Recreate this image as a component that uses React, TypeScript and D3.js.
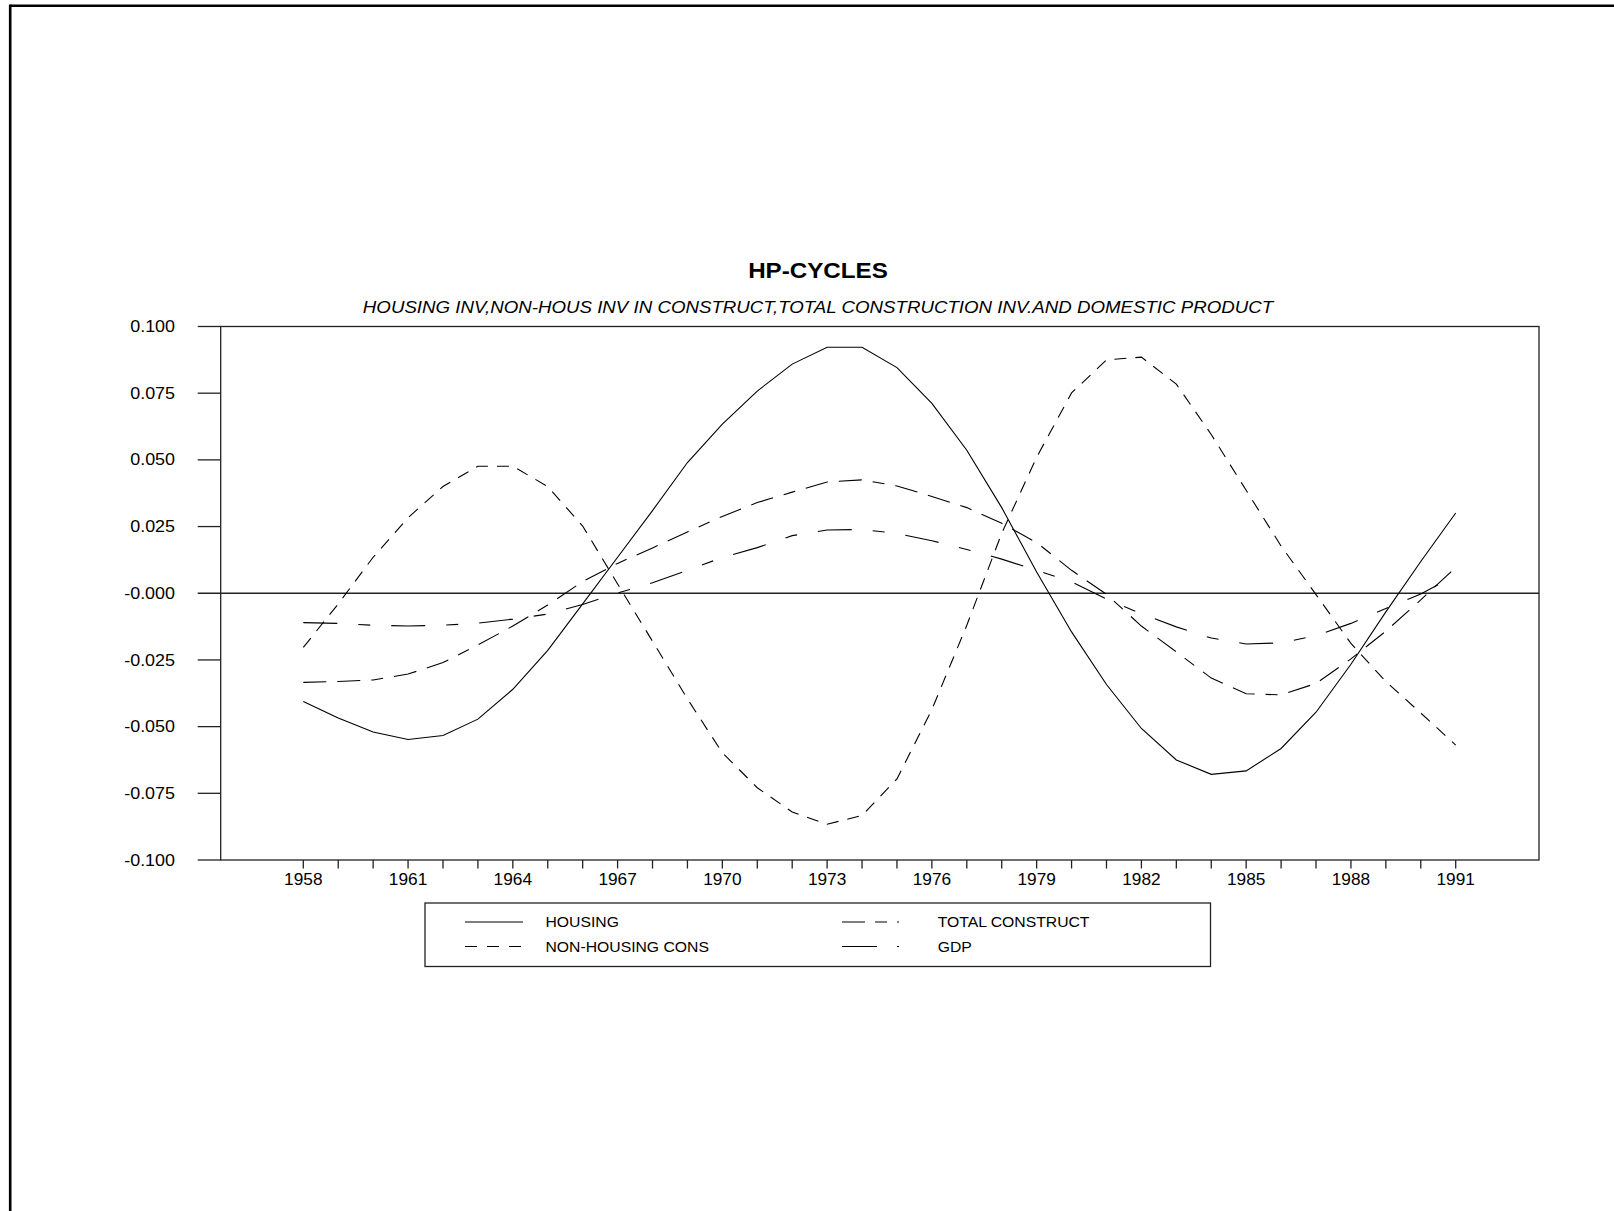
import React, { useEffect } from "react";
import * as d3 from "d3";

const years = [1958,1959,1960,1961,1962,1963,1964,1965,1966,1967,1968,1969,1970,1971,1972,1973,1974,1975,1976,1977,1978,1979,1980,1981,1982,1983,1984,1985,1986,1987,1988,1989,1990,1991];

const housing = [-0.0406,-0.0468,-0.0520,-0.0548,-0.0533,-0.0472,-0.0360,-0.0214,-0.0040,0.0135,0.0310,0.0490,0.0634,0.0758,0.0859,0.0922,0.0922,0.0846,0.0712,0.0536,0.0321,0.0080,-0.0145,-0.0342,-0.0507,-0.0625,-0.0679,-0.0666,-0.0582,-0.0446,-0.0266,-0.0070,0.0119,0.0301];

const nonHousing = [-0.0203,-0.0040,0.0135,0.0283,0.0400,0.0476,0.0476,0.0400,0.0252,0.0035,-0.0180,-0.0396,-0.0598,-0.0729,-0.0820,-0.0866,-0.0833,-0.0696,-0.0436,-0.0120,0.0225,0.0510,0.0751,0.0875,0.0885,0.0784,0.0595,0.0386,0.0177,-0.0005,-0.0188,-0.0331,-0.0449,-0.0569];

const totalConstruct = [-0.0334,-0.0331,-0.0325,-0.0303,-0.0260,-0.0194,-0.0123,-0.0044,0.0044,0.0112,0.0170,0.0230,0.0288,0.0340,0.0379,0.0417,0.0425,0.0402,0.0363,0.0321,0.0262,0.0190,0.0086,-0.0004,-0.0123,-0.0220,-0.0318,-0.0377,-0.0381,-0.0338,-0.0246,-0.0142,-0.0025,0.0097];

const gdp = [-0.0110,-0.0113,-0.0120,-0.0123,-0.0120,-0.0112,-0.0097,-0.0078,-0.0042,0.0001,0.0039,0.0086,0.0134,0.0171,0.0216,0.0237,0.0239,0.0224,0.0197,0.0164,0.0128,0.0086,0.0043,-0.0022,-0.0077,-0.0126,-0.0168,-0.0190,-0.0186,-0.0159,-0.0113,-0.0057,-0.0003,0.0067];

const yTickValues = [0.1, 0.075, 0.05, 0.025, 0, -0.025, -0.05, -0.075, -0.1];
const yTickLabels = ["0.100", "0.075", "0.050", "0.025", "-0.000", "-0.025", "-0.050", "-0.075", "-0.100"];
const xLabelYears = [1958,1961,1964,1967,1970,1973,1976,1979,1982,1985,1988,1991];

const title = "HP-CYCLES";
const subtitle = "HOUSING INV,NON-HOUS INV IN CONSTRUCT,TOTAL CONSTRUCTION INV.AND DOMESTIC PRODUCT";

const seriesNames = ["HOUSING", "NON-HOUSING CONS", "TOTAL CONSTRUCT", "GDP"];
const seriesDash = ["none", "12 9", "23 11 23 11 12 11", "34 21 12 21"];
const legendDash = ["none", "12 10", "23 10 12 10 2 10", "35 20 2 30"];

const W = 1614, H = 1211;
const L = 220.7, R = 1539, T = 326.5, B = 860;
const FONT = "'Liberation Sans', Arial, Helvetica, sans-serif";

type STextProps = {
  x: number; y: number; sx: number; size: number; anchor?: string;
  weight?: string; italic?: boolean; dy?: string; children: React.ReactNode;
};
function SText({ x, y, sx, size, anchor = "start", weight, italic, dy, children }: STextProps) {
  return (
    <g transform={`translate(${x},${y}) scale(${sx},1)`}>
      <text x={0} y={0} dy={dy} textAnchor={anchor} fontSize={size} fontWeight={weight}
        fontStyle={italic ? "italic" : undefined}>{children}</text>
    </g>
  );
}

export default function App() {
  useEffect(() => {
    document.body.style.margin = "0";
    document.body.style.overflow = "hidden";
  }, []);

  const x = d3.scaleLinear().domain([1958, 1991]).range([303.3, 1455.7]);
  const y = d3.scaleLinear().domain([-0.1, 0.1]).range([B, T]);
  const line = d3.line<number>().x((_, i) => x(years[i])).y((d) => y(d));
  const series = [housing, nonHousing, totalConstruct, gdp];
  const axisColor = "#222";
  const cx = 818;

  const legendX = [465, 842];
  const legendTextX = [545.5, 937.7];
  const legendY = [922, 946.5];
  const legendPos = [
    { c: 0, r: 0 },
    { c: 0, r: 1 },
    { c: 1, r: 0 },
    { c: 1, r: 1 },
  ];

  return (
    <svg width={W} height={H} style={{ position: "absolute", left: 0, top: 0, background: "#fff" }} fontFamily={FONT}>
      <rect x={0} y={0} width={W} height={H} fill="#fff" />
      {/* page frame */}
      <line x1={10.2} y1={5.8} x2={W} y2={5.8} stroke="#000" strokeWidth={2.6} />
      <line x1={10.2} y1={4.5} x2={10.2} y2={H} stroke="#000" strokeWidth={2.6} />

      {/* titles */}
      <SText x={cx} y={278} sx={1.1} size={22} anchor="middle" weight="bold">{title}</SText>
      <SText x={cx} y={313} sx={1.1} size={17} anchor="middle" italic>{subtitle}</SText>

      {/* plot box */}
      <rect x={L} y={T} width={R - L} height={B - T} fill="none" stroke={axisColor} strokeWidth={1.3} />

      {/* y ticks */}
      {yTickValues.map((v, i) => (
        <g key={"yt" + i}>
          <line x1={197.7} x2={v === 0 ? R : L} y1={y(v)} y2={y(v)} stroke={axisColor} strokeWidth={1.3} />
          <SText x={175} y={y(v)} dy="0.35em" sx={1.12} size={16} anchor="end">{yTickLabels[i]}</SText>
        </g>
      ))}

      {/* x ticks */}
      {years.map((yr) => (
        <line key={"xt" + yr} x1={x(yr)} x2={x(yr)} y1={B} y2={B + 8.5} stroke={axisColor} strokeWidth={1.3} />
      ))}
      {xLabelYears.map((yr) => (
        <SText key={"xl" + yr} x={x(yr)} y={884.5} sx={1.08} size={16} anchor="middle">{yr}</SText>
      ))}

      {/* series */}
      {series.map((s, i) => (
        <path key={"s" + i} d={line(s) || ""} fill="none" stroke="#000" strokeWidth={1.1}
          strokeDasharray={seriesDash[i] === "none" ? undefined : seriesDash[i]} />
      ))}

      {/* legend */}
      <rect x={425} y={903} width={785.5} height={63.5} fill="none" stroke={axisColor} strokeWidth={1.3} />
      {seriesNames.map((n, i) => {
        const p = legendPos[i];
        return (
          <g key={"lg" + i}>
            <line x1={legendX[p.c]} x2={legendX[p.c] + 58} y1={legendY[p.r]} y2={legendY[p.r]} stroke="#000" strokeWidth={1.1}
              strokeDasharray={legendDash[i] === "none" ? undefined : legendDash[i]} />
            <SText x={legendTextX[p.c]} y={legendY[p.r]} dy="0.35em" sx={1.05} size={15}>{n}</SText>
          </g>
        );
      })}
    </svg>
  );
}
